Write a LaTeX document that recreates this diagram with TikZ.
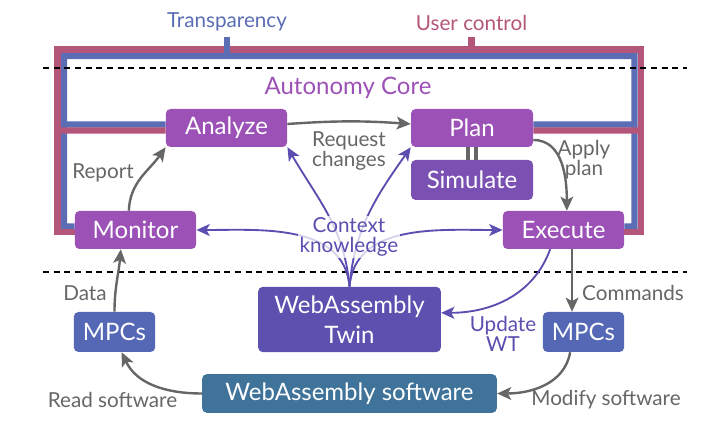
\documentclass[tikz,border=0pt]{standalone}
\usepackage{fontspec}
\setmainfont{Lato}
\usetikzlibrary{arrows.meta,positioning,calc,backgrounds}
\definecolor{boxpurple}{HTML}{9B51B6}
\definecolor{simpurple}{HTML}{7A50B2}
\definecolor{twinblue}{HTML}{5D51B0}
\definecolor{mpcblue}{HTML}{5568B6}
\definecolor{softblue}{HTML}{40739A}
\definecolor{transblue}{HTML}{5A6DB5}
\definecolor{userred}{HTML}{B4557A}
\definecolor{ctxpurple}{HTML}{5A4FB0}
\definecolor{arrowgray}{HTML}{666666}

\begin{document}
\begin{tikzpicture}[x=0.75pt, y=0.75pt,
  box/.style={rectangle, rounded corners=3.5pt, text=white, minimum width=91pt, minimum height=28.5pt, inner sep=2pt, font=\fontsize{18}{22}\selectfont, align=center},
  lbl/.style={text=arrowgray, font=\fontsize{15.5}{15}\selectfont, align=center, inner sep=1pt},
  flow/.style={draw=arrowgray, line width=1.8pt, -{Stealth[length=10.5pt,width=9.5pt,inset=2.5pt]}},
  ctx/.style={draw=ctxpurple, line width=1.4pt, -{Stealth[length=10pt,width=9pt,inset=2.5pt]}},
  frame/.style={line width=4.8pt},
  divider/.style={black, line width=1.5pt, dash pattern=on 4.5pt off 3.5pt}
]
  \useasboundingbox (0,0) rectangle (724,435);
  % autonomy core
  \node[font=\fontsize{18}{22}\selectfont, boxpurple] (core) at (348,347) {Autonomy Core};
  \node[box, fill=boxpurple] (analyze) at (226.5,307) {Analyze};
  \node[box, fill=boxpurple, minimum width=91.5pt] (plan) at (472,307) {Plan};
  \node[box, fill=simpurple, minimum width=91.5pt, minimum height=30pt] (simulate) at (472,255) {Simulate};
  \node[box, fill=boxpurple] (monitor) at (135.5,205) {Monitor};
  \node[box, fill=boxpurple] (execute) at (563.5,205) {Execute};
  % managed system
  \node[box, fill=twinblue, minimum width=137pt, minimum height=49pt] (twin) at (349.5,115.5) {WebAssembly\\Twin};
  \node[box, fill=mpcblue, minimum width=61pt, minimum height=30pt] (mpcL) at (114.5,103) {MPCs};
  \node[box, fill=mpcblue, minimum width=61pt, minimum height=30pt] (mpcR) at (583.5,103) {MPCs};
  \node[box, fill=softblue, minimum width=221pt, minimum height=29pt] (soft) at (349.5,41.5) {WebAssembly software};
  % transparency and user control frames
  \begin{scope}[on background layer]
    \draw[frame, transblue] ([yshift=2.6pt]monitor.west) -- (64,208.5) -- (64,379) -- (634.5,379) -- (634.5,208.5) -- ([yshift=2.6pt]execute.east);
    \draw[frame, transblue] (64,310.5) -- ([yshift=2.6pt]analyze.west);
    \draw[frame, transblue] ([yshift=2.6pt]plan.east) -- (634.5,310.5);
    \draw[frame, userred] ([yshift=-1.5pt]monitor.west) -- (57.5,203) -- (57.5,385.3) -- (641,385.3) -- (641,203) -- ([yshift=-1.5pt]execute.east);
    \draw[frame, userred] (57.5,304.5) -- ([yshift=-1.9pt]analyze.west);
    \draw[frame, userred] ([yshift=-1.9pt]plan.east) -- (641,304.5);
    \draw[frame, userred] (471.5,385.3) -- (471.5,398) node[above, inner sep=2pt, text=userred, font=\fontsize{15.5}{15}\selectfont] (user) {User control};
    \draw[frame, transblue] (227,379) -- (227,398) node[above, inner sep=2pt, text=transblue, font=\fontsize{15.5}{15}\selectfont] (trans) {Transparency};
  \end{scope}
  % dividers
  \draw[divider] (43,367.3) -- (687,367.3);
  \draw[divider] (43,163.3) -- (687,163.3);
  % loop
  \draw[flow] ([xshift=-5pt]monitor.north) to[out=88,in=-125] (analyze.south west);
  \draw[flow] ([yshift=3pt]analyze.east) to[bend left=4] ([yshift=3pt]plan.west);
  \draw[flow] ([yshift=-9pt]plan.east) to[out=0,in=90] ([xshift=2.5pt]execute.north);
  \draw[arrowgray, line width=2.5pt] ([xshift=-3pt]plan.south) -- ([xshift=-3pt]simulate.north);
  \draw[arrowgray, line width=2.5pt] ([xshift=3pt]plan.south) -- ([xshift=3pt]simulate.north);
  % context knowledge
  \draw[ctx] (twin.north) to[out=95,in=-60] (analyze.south east);
  \draw[ctx] (twin.north) to[out=85,in=-125] (plan.south west);
  \draw[ctx] (twin.north) to[out=95,in=0] (monitor.east);
  \draw[ctx] (twin.north) to[out=85,in=180] (execute.west);
  \draw[ctx] ([xshift=-10pt]execute.south) to[out=-110,in=0] ([yshift=5pt]twin.east);
  % sensors and effectors
  \draw[flow] (mpcL.north) to[out=90,in=-95] ([xshift=-11pt]monitor.south);
  \draw[flow] (soft.west) to[out=180,in=-65] ([xshift=5.4pt]mpcL.south);
  \draw[flow] ([xshift=6.4pt]execute.south) -- ([xshift=6.4pt]execute.south |- mpcR.north);
  \draw[flow] ([xshift=-10pt]mpcR.south) to[out=-100,in=0] (soft.east);
  % labels
  \node[lbl] (report) at (103,262) {Report};
  \node[lbl] (request) at (349,284) {Request\\changes};
  \node[lbl] (apply) at (584,275) {Apply\\plan};
  \node[lbl, text=ctxpurple, fill=white, fill opacity=0.75, text opacity=1] (context) at (349,198) {Context\\knowledge};
  \node[lbl] (data) at (85,142) {Data};
  \node[lbl] (commands) at (633,142) {Commands};
  \node[lbl, text=ctxpurple] (update) at (503,101) {Update\\WT};
  \node[lbl] (read) at (112.5,35) {Read software};
  \node[lbl] (modify) at (606,35) {Modify software};
\end{tikzpicture}
\end{document}
